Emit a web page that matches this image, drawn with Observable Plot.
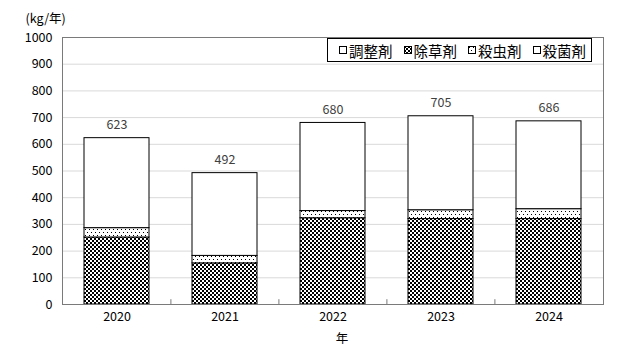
<!DOCTYPE html>
<html>
<head>
<meta charset="utf-8">
<script src="https://cdn.jsdelivr.net/npm/d3@7"></script>
<script src="https://cdn.jsdelivr.net/npm/@observablehq/plot@0.6"></script>
<style>
  body { margin: 0; background: #fff; }
  #wrap { position: relative; width: 623px; height: 360px; font-family: "Noto Sans CJK JP", sans-serif; }
  #legend { position: absolute; left: 327px; top: 38px; width: 263px; height: 22px; border: 1px solid #000; background: #fff;
    font-size: 14.5px; color: #000; box-sizing: content-box; }
  #legend .item { display: flex; align-items: center; position: absolute; top: 0; height: 22px; }
  #legend svg { margin-right: 2px; }
</style>
</head>
<body>
<svg width="0" height="0" style="position:absolute">
  <defs>
    <pattern id="checker" width="4" height="4" patternUnits="userSpaceOnUse">
      <rect width="4" height="4" fill="#fff"/>
      <rect x="0" y="0" width="2" height="2" fill="#000"/>
      <rect x="2" y="2" width="2" height="2" fill="#000"/>
    </pattern>
    <pattern id="dots" width="4" height="6" patternUnits="userSpaceOnUse">
      <rect width="4" height="6" fill="#fff"/>
      <rect x="1" y="1" width="1" height="1" fill="#000"/>
      <rect x="3" y="4" width="1" height="1" fill="#000"/>
    </pattern>
  </defs>
</svg>
<div id="wrap"></div>
<script>
// Data
const years = ["2020", "2021", "2022", "2023", "2024"];
const herbicide = [251, 154, 323, 320, 320];   // 除草剤
const insecticide = [35, 28, 27, 33, 37];     // 殺虫剤
const fungicide = [337, 310, 330, 352, 329];  // 殺菌剤
const regulator = [0, 0, 0, 0, 0];            // 調整剤
const totals = [623, 492, 680, 705, 686];
const legendNames = ["調整剤", "除草剤", "殺虫剤", "殺菌剤"];
const stackOrder = ["除草剤", "殺虫剤", "殺菌剤", "調整剤"];
const yTicks = [0, 100, 200, 300, 400, 500, 600, 700, 800, 900, 1000];

const fills = {"除草剤": "url(#checker)", "殺虫剤": "url(#dots)", "殺菌剤": "#fff", "調整剤": "#fff"};

const series = {"除草剤": herbicide, "殺虫剤": insecticide, "殺菌剤": fungicide, "調整剤": regulator};
const rows = [];
stackOrder.forEach(name => years.forEach((y, i) => rows.push({year: y, type: name, value: series[name][i]})));
const totalRows = years.map((y, i) => ({year: y, total: totals[i]}));

const W = 623, H = 360, mL = 62, mR = 20, mT = 37, mB = 56;
const step = (W - mL - mR) / years.length;
const font = "Noto Sans CJK JP, sans-serif";

const chart = Plot.plot({
  width: W, height: H,
  marginLeft: mL, marginRight: mR, marginTop: mT, marginBottom: mB,
  style: {fontFamily: font, fontSize: "12px", color: "#000", background: "#fff"},
  x: {domain: years, paddingInner: 0.4, paddingOuter: 0.2},
  y: {domain: [0, 1000]},
  color: {type: "identity"},
  marks: [
    Plot.gridY(yTicks.slice(1, -1), {stroke: "#d9d9d9", strokeOpacity: 1}),
    Plot.barY(rows, Plot.stackY({
      x: "year", y: "value", z: "type", order: stackOrder,
      fill: d => fills[d.type], stroke: "#000", strokeWidth: 1
    })),
    Plot.frame({stroke: "#7a7a7a"}),
    Plot.ruleX(years.slice(1), {x: d => d, y1: 0, y2: 18, dx: -step / 2, stroke: "#7a7a7a"}),
    Plot.text(totalRows, {x: "year", y: "total", text: d => String(d.total), dy: -13, fill: "#404040", fontSize: 12.5}),
    Plot.axisY(yTicks, {tickSize: 0, tickPadding: 10, label: null, fontSize: 12.5, tickFormat: d => String(d)}),
    Plot.axisX({tickSize: 0, tickPadding: 8, label: null, fontSize: 12.5}),
    Plot.text(["(kg/年)"], {frameAnchor: "top-left", textAnchor: "start", dx: -37, dy: -23, fontSize: 12.5, fill: "#000"}),
    Plot.text(["年"], {frameAnchor: "bottom", dx: 9, dy: 38, fontSize: 12.5, fill: "#000"})
  ]
});

const wrap = document.getElementById("wrap");
wrap.appendChild(chart);

// Legend
const legend = document.createElement("div");
legend.id = "legend";
const swatchFill = {"調整剤": "#fff", "除草剤": "url(#checker)", "殺虫剤": "url(#dots)", "殺菌剤": "#fff"};
legendNames.forEach((name, i) => {
  const item = document.createElement("div");
  item.className = "item";
  item.style.left = (11 + i * 64.5) + "px";
  item.innerHTML = `<svg width="8" height="8"><rect x="0.5" y="0.5" width="7" height="7" fill="${swatchFill[name]}" stroke="#000"/></svg><span>${name}</span>`;
  legend.appendChild(item);
});
wrap.appendChild(legend);
</script>
</body>
</html>
